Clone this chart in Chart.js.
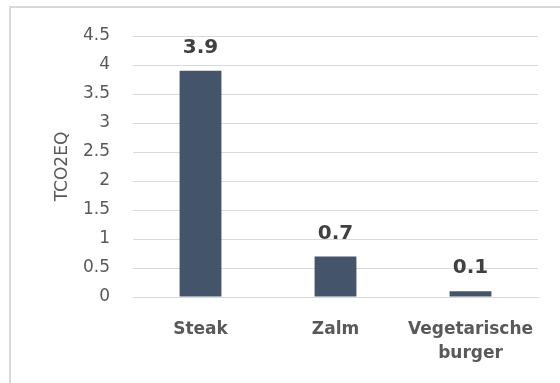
<!DOCTYPE html>
<html>
<head>
<meta charset="utf-8">
<script src="https://cdn.jsdelivr.net/npm/chart.js@4"></script>
<style>
  html, body { margin: 0; padding: 0; background: #fff; }
  body { width: 560px; height: 383px; overflow: hidden; position: relative; }
  .frame { position: absolute; left: 9px; top: 6px; width: 600px; height: 420px; border: 2px solid #d9d9d9; box-sizing: border-box; }
  #wrap { position: absolute; left: 0; top: 0; width: 560px; height: 383px; }
</style>
</head>
<body>
<div class="frame"></div>
<div id="wrap"><canvas id="chart" width="560" height="383"></canvas></div>
<script>
// --- dados ---
const categories = ['Steak', 'Zalm', ['Vegetarische', 'burger']];
const values = [3.9, 0.7, 0.1];
const yTicks = [0, 0.5, 1, 1.5, 2, 2.5, 3, 3.5, 4, 4.5];
const yTitle = 'TCO2EQ';

const FONT = "'DejaVu Sans', sans-serif";
const BAR_COLOR = '#44546a';
const GRID_COLOR = '#d9d9d9';
const TEXT_COLOR = '#595959';

// rótulos de valor acima de cada barra
const valueLabels = {
    id: 'valueLabels',
    afterDatasetsDraw(chart) {
        const ctx = chart.ctx;
        const meta = chart.getDatasetMeta(0);
        ctx.save();
        ctx.font = `bold 20px ${FONT}`;
        ctx.fillStyle = '#404040';
        ctx.textAlign = 'center';
        ctx.textBaseline = 'middle';
        meta.data.forEach((bar, i) => {
            ctx.fillText(values[i].toFixed(1), bar.x, bar.y - 23);
        });
        ctx.restore();
    }
};

new Chart(document.getElementById('chart'), {
    type: 'bar',
    data: {
        labels: categories,
        datasets: [{
            data: values,
            backgroundColor: BAR_COLOR,
            borderWidth: 0,
            categoryPercentage: 1,
            barPercentage: 0.31
        }]
    },
    options: {
        responsive: false,
        animation: false,
        devicePixelRatio: 1,
        layout: { padding: { left: 0, top: 36, right: 22, bottom: 0 } },
        plugins: { legend: { display: false }, tooltip: { enabled: false } },
        scales: {
            x: {
                grid: { display: false, drawTicks: false },
                border: { display: true, color: GRID_COLOR, width: 1 },
                ticks: {
                    color: TEXT_COLOR,
                    padding: 20,
                    maxRotation: 0,
                    font: { family: FONT, size: 17, weight: 'bold', lineHeight: 1.45 }
                },
                afterFit(s) { s.height = 383 - 297; }
            },
            y: {
                min: 0,
                max: 4.5,
                afterBuildTicks(s) { s.ticks = yTicks.map(v => ({ value: v })); },
                grid: { color: GRID_COLOR, drawTicks: false },
                border: { display: false },
                ticks: {
                    color: TEXT_COLOR,
                    padding: 23,
                    font: { family: FONT, size: 17 },
                    callback: v => String(v)
                },
                title: {
                    display: true,
                    text: yTitle,
                    color: TEXT_COLOR,
                    font: { family: FONT, size: 17 },
                    padding: { top: 52, bottom: 0 }
                },
                afterFit(s) { s.width = 133; }
            }
        }
    },
    plugins: [valueLabels]
});
</script>
</body>
</html>
